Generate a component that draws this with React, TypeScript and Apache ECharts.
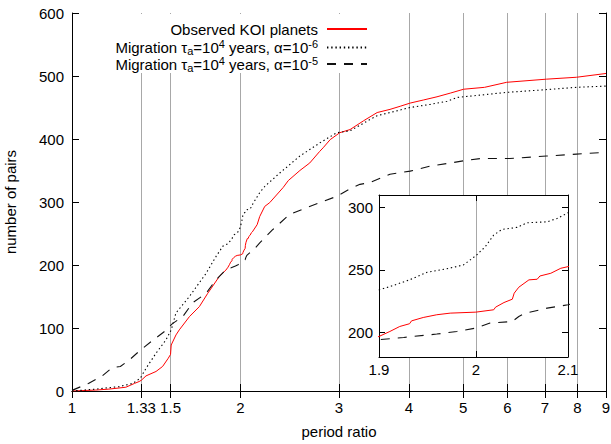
import React, { useEffect, useRef } from "react";
import * as echarts from "echarts";

const FONT = "'Liberation Sans', Arial, Helvetica, sans-serif";

const xTicks = [1, 1.33, 1.5, 2, 3, 4, 5, 6, 7, 8, 9];
const insetXTicks = [1.9, 2, 2.1];
const insetYTicks = [200, 250, 300];

const seriesNames = [
  "Observed KOI planets",
  "Migration τa=10^4 years, α=10^-6",
  "Migration τa=10^4 years, α=10^-5",
];
const legendLabels = [
  "Observed KOI planets",
  "Migration τ{sub|a}=10{sup|4} years, α=10{sup|-6}",
  "Migration τ{sub|a}=10{sup|4} years, α=10{sup|-5}",
];

const observedKOI: [number, number][] = [
  [1, 0], [1.103, 1.5], [1.164, 3], [1.248, 6], [1.293, 12], [1.318, 15], [1.33, 17],
  [1.356, 24], [1.413, 31], [1.452, 39], [1.486, 52], [1.5, 58], [1.504, 73], [1.534, 89],
  [1.555, 97], [1.621, 118], [1.689, 134], [1.748, 155], [1.834, 182], [1.884, 192],
  [1.9, 196.5], [1.911, 200.5], [1.921, 204.5], [1.931, 206.7], [1.933, 209], [1.945, 211.7],
  [1.959, 213.9], [1.973, 215.2], [2.0, 216], [2.019, 217.9], [2.021, 220], [2.03, 223.7],
  [2.039, 226.4], [2.041, 231.2], [2.046, 236], [2.057, 241.9], [2.066, 242.4], [2.069, 245],
  [2.081, 247.2], [2.092, 251.2], [2.1, 252.5], [2.142, 264], [2.165, 277], [2.21, 293],
  [2.256, 299], [2.384, 323], [2.435, 334], [2.554, 350], [2.66, 362], [2.769, 380],
  [2.81, 386], [2.893, 399], [3.01, 410], [3.14, 415], [3.32, 429], [3.51, 442], [3.7, 447],
  [3.86, 452], [4.02, 457], [4.25, 462], [4.49, 467], [4.75, 473], [5.01, 479], [5.46, 482],
  [5.98, 490], [7.05, 495], [7.97, 498], [9, 504],
];

const migrationAlpha6: [number, number][] = [
  [1, 0], [1.103, 3], [1.214, 7], [1.283, 12], [1.324, 20], [1.356, 36], [1.413, 60],
  [1.472, 81], [1.504, 97], [1.534, 124], [1.621, 150], [1.737, 187], [1.81, 214],
  [1.861, 230], [1.9, 233.9], [1.911, 236.5], [1.931, 241.9], [1.949, 248], [1.969, 250.7],
  [1.987, 253.9], [2.0, 261.3], [2.01, 268.5], [2.019, 277.9], [2.028, 282.4], [2.044, 284],
  [2.055, 287.7], [2.077, 288.5], [2.088, 291.2], [2.1, 295.7], [2.165, 315], [2.212, 325],
  [2.351, 346], [2.554, 373], [2.774, 394], [2.973, 410], [3.14, 413], [3.41, 431],
  [3.51, 437], [3.7, 442], [4.02, 450], [4.37, 455], [4.68, 460], [4.88, 466], [5.14, 468],
  [5.98, 474], [6.95, 478], [7.97, 482], [9, 484],
];

const migrationAlpha5: [number, number][] = [
  [1, 1], [1.07, 12], [1.133, 24], [1.18, 37], [1.22, 39], [1.265, 49], [1.318, 63],
  [1.392, 80], [1.461, 94], [1.512, 107], [1.577, 118], [1.643, 140], [1.736, 155],
  [1.81, 177], [1.887, 193], [1.9, 193.9], [1.925, 195.7], [1.959, 198.4], [1.98, 200.5],
  [2.0, 203.2], [2.015, 207.2], [2.039, 208.5], [2.046, 212.5], [2.053, 215.2],
  [2.077, 219.2], [2.1, 221.9], [2.165, 235], [2.283, 256], [2.446, 280], [2.625, 291],
  [2.774, 299], [2.973, 309], [3.14, 321], [3.27, 328], [3.41, 331], [3.7, 344],
  [4.02, 349], [4.37, 357], [4.75, 362], [5.05, 366], [5.37, 369], [6.06, 369],
  [7.05, 373], [7.97, 376], [9, 379],
];

const seriesData = [observedKOI, migrationAlpha6, migrationAlpha5];
const seriesLines = [
  { color: "#ff0000", width: 1, type: "solid" as any },
  { color: "#000000", width: 1.1, type: [1.4, 2.8] as any },
  { color: "#111111", width: 1.1, type: [9, 8] as any },
];
const legendTops = [20, 38.5, 55];

export default function App() {
  const ref = useRef<HTMLDivElement>(null);
  useEffect(() => {
    if (!ref.current) return;
    const chart = echarts.init(ref.current, undefined, { renderer: "svg" });
    const label = { fontFamily: FONT, fontSize: 15, color: "#000" };

    const series: any[] = [];
    seriesData.forEach((d, i) => {
      series.push({
        name: seriesNames[i], type: "line", xAxisIndex: 0, yAxisIndex: 0, data: d,
        symbol: "none", lineStyle: seriesLines[i], itemStyle: { color: seriesLines[i].color },
        z: 2, silent: true,
      });
      series.push({
        name: seriesNames[i], type: "line", xAxisIndex: 3, yAxisIndex: 2, data: d,
        symbol: "none", lineStyle: seriesLines[i], itemStyle: { color: seriesLines[i].color },
        z: 4, silent: true,
      });
    });

    const legends = seriesNames.map((n, i) => ({
      data: [n], right: 243, top: legendTops[i], orient: "horizontal", align: "right",
      itemWidth: 40, itemHeight: 14, padding: 0, itemGap: 0, selectedMode: false,
      backgroundColor: "#fff",
      itemStyle: { color: "rgba(0,0,0,0)", borderColor: "rgba(0,0,0,0)", borderWidth: 0, opacity: 0 },
      formatter: (name: string) => legendLabels[seriesNames.indexOf(name)],
      textStyle: {
        fontFamily: FONT, fontSize: 15, color: "#000", lineHeight: 18, padding: [0, 4, 0, 0],
        rich: {
          sub: { fontFamily: FONT, fontSize: 11, lineHeight: 10, verticalAlign: "bottom", color: "#000" },
          sup: { fontFamily: FONT, fontSize: 11, lineHeight: 10, verticalAlign: "top", color: "#000" },
        },
      },
    }));

    const axisLine = { show: true, lineStyle: { color: "#000", width: 1 } };

    chart.setOption({
      animation: false,
      backgroundColor: "#fff",
      grid: [
        { left: 72, right: 5, top: 13, bottom: 53, outerBoundsMode: "none", containLabel: false },
        {
          left: 379, right: 43, top: 195, bottom: 87, show: true, backgroundColor: "#fff",
          borderWidth: 0, z: 1, outerBoundsMode: "none", containLabel: false,
        },
      ],
      legend: legends,
      graphic: [
        { type: "rect", shape: { x: 100, y: 14, width: 275, height: 59 }, style: { fill: "#fff" }, z: 1, silent: true },
      ],
      xAxis: [
        {
          gridIndex: 0, type: "log", min: 1, max: 9, position: "bottom", z: 1,
          axisLine, axisTick: { inside: true, length: 7, customValues: xTicks, lineStyle: { color: "#000" } },
          axisLabel: { ...label, margin: 9, customValues: xTicks, formatter: (v: number) => String(v) },
          splitLine: { show: false }, minorTick: { show: false },
          name: "period ratio", nameLocation: "middle", nameGap: 33, nameTextStyle: label,
        },
        {
          gridIndex: 0, type: "log", min: 1, max: 9, position: "top", z: 1,
          axisLine, axisTick: { inside: true, length: 7, customValues: xTicks, lineStyle: { color: "#000" } },
          axisLabel: { show: false }, splitLine: { show: false },
        },
        {
          gridIndex: 0, type: "log", min: 1, max: 9, position: "bottom", z: 0,
          axisLine: { show: false }, axisTick: { show: false, customValues: xTicks },
          axisLabel: { show: false, customValues: xTicks },
          splitLine: { show: true, lineStyle: { color: "#a8a8a8", width: 1 } },
        },
        {
          gridIndex: 1, type: "log", min: 1.9, max: 2.1, position: "bottom", z: 3,
          axisLine, axisTick: { inside: true, length: 6, customValues: insetXTicks, lineStyle: { color: "#000" } },
          axisLabel: { ...label, margin: 5, customValues: insetXTicks, formatter: (v: number) => String(v) },
          splitLine: { show: true, lineStyle: { color: "#a8a8a8", width: 1 } },
        },
        {
          gridIndex: 1, type: "log", min: 1.9, max: 2.1, position: "top", z: 3,
          axisLine, axisTick: { inside: true, length: 6, customValues: insetXTicks, lineStyle: { color: "#000" } },
          axisLabel: { show: false }, splitLine: { show: false },
        },
      ],
      yAxis: [
        {
          gridIndex: 0, type: "value", min: 0, max: 600, interval: 100, position: "left", z: 1,
          axisLine, axisTick: { inside: true, length: 7, lineStyle: { color: "#000" } },
          axisLabel: { ...label, margin: 8 }, splitLine: { show: false },
          name: "number of pairs", nameLocation: "middle", nameGap: 54, nameRotate: 90, nameTextStyle: label,
        },
        {
          gridIndex: 0, type: "value", min: 0, max: 600, interval: 100, position: "right", z: 1,
          axisLine, axisTick: { inside: true, length: 7, lineStyle: { color: "#000" } },
          axisLabel: { show: false }, splitLine: { show: false },
        },
        {
          gridIndex: 1, type: "value", min: 180, max: 310, position: "left", z: 3,
          axisLine, axisTick: { inside: true, length: 6, customValues: insetYTicks, lineStyle: { color: "#000" } },
          axisLabel: { ...label, margin: 6, customValues: insetYTicks }, splitLine: { show: false },
        },
        {
          gridIndex: 1, type: "value", min: 180, max: 310, position: "right", z: 3,
          axisLine, axisTick: { inside: true, length: 6, customValues: insetYTicks, lineStyle: { color: "#000" } },
          axisLabel: { show: false }, splitLine: { show: false },
        },
      ],
      series,
    });
    return () => chart.dispose();
  }, []);
  return (
    <div
      ref={ref}
      style={{ position: "absolute", left: 0, top: 0, width: 611, height: 444, background: "#fff" }}
    />
  );
}
